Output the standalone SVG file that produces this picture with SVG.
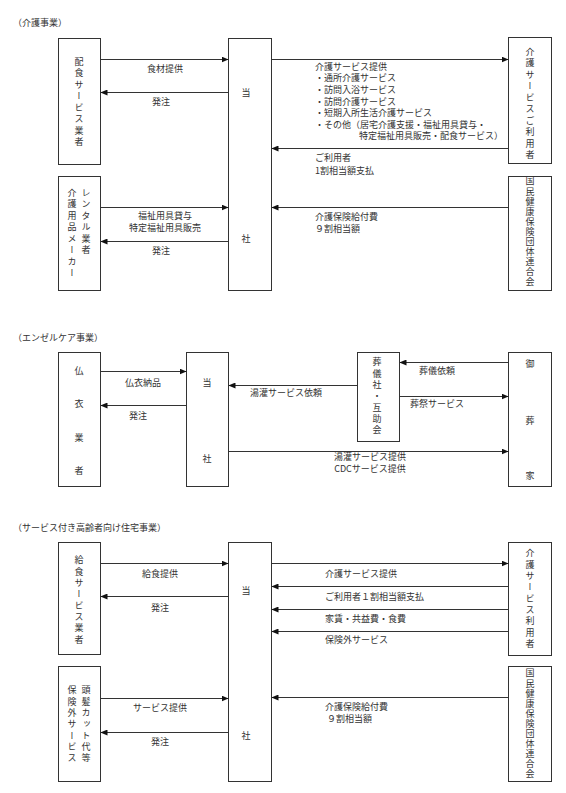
<svg xmlns="http://www.w3.org/2000/svg" width="566" height="793" viewBox="0 0 566 793">
<style>
text{font-family:"Noto Sans CJK JP","Noto Sans",sans-serif;font-size:9px;fill:#333}
.v{writing-mode:vertical-rl;letter-spacing:2.5px}
.v2{writing-mode:vertical-rl;letter-spacing:2.3px}
.v1{writing-mode:vertical-rl;letter-spacing:1.1px}
.box{fill:#fff;stroke:#333;stroke-width:1}
.ln{stroke:#333;stroke-width:1;fill:none;marker-end:url(#ah)}
.m{text-anchor:middle}
</style>
<defs>
<marker id="ah" markerUnits="userSpaceOnUse" markerWidth="7" markerHeight="6" refX="7" refY="3" orient="auto">
<path d="M0,0 L7,3 L0,6 Z" fill="#111"/>
</marker>
</defs>
<rect width="566" height="793" fill="#fff"/>

<text x="13" y="25.5">（介護事業）</text>
<text x="13" y="340.5">（エンゼルケア事業）</text>
<text x="13" y="530.5">（サービス付き高齢者向け住宅事業）</text>

<!-- Section 1 -->
<g id="haishoku">
<rect class="box" x="58.5" y="38.5" width="42" height="126"/>
<text class="v" x="79" y="57">配食サービス業者</text>
</g>
<g id="tousha1">
<rect class="box" x="228.5" y="38.5" width="43" height="252"/>
<text class="m" x="246" y="95.5">当</text>
<text class="m" x="246" y="241.5">社</text>
</g>
<g id="riyousha1">
<rect class="box" x="508.5" y="37.5" width="43" height="126"/>
<text class="v" x="530" y="47">介護サービスご利用者</text>
</g>
<g id="kokuho1">
<rect class="box" x="508.5" y="176.5" width="43" height="114"/>
<text class="v1" x="530" y="176.5">国民健康保険団体連合会</text>
</g>
<g id="rental">
<rect class="box" x="58.5" y="176.5" width="42" height="114"/>
<text class="v" x="86" y="188">レンタル業者</text>
<text class="v" x="72" y="188">介護用品メーカー</text>
</g>

<!-- Section 2 -->
<g id="butsui">
<rect class="box" x="58.5" y="352.5" width="42" height="134"/>
<text class="m" x="79" y="373.5">仏</text>
<text class="m" x="79" y="406.5">衣</text>
<text class="m" x="79" y="440.5">業</text>
<text class="m" x="79" y="473.5">者</text>
</g>
<g id="tousha2">
<rect class="box" x="186.5" y="352.5" width="42" height="134"/>
<text class="m" x="207" y="385.5">当</text>
<text class="m" x="207" y="461.5">社</text>
</g>
<g id="sougisha">
<rect class="box" x="357.5" y="352.5" width="42" height="89"/>
<text class="v2" x="377" y="357.5">葬儀社・互助会</text>
</g>
<g id="gosouka">
<rect class="box" x="508.5" y="352.5" width="43" height="134"/>
<text class="m" x="530" y="366.5">御</text>
<text class="m" x="530" y="423.5">葬</text>
<text class="m" x="530" y="478.5">家</text>
</g>

<!-- Section 3 -->
<g id="kyushoku">
<rect class="box" x="58.5" y="542.5" width="42" height="112"/>
<text class="v2" x="79" y="555.5">給食サービス業者</text>
</g>
<g id="tousha3">
<rect class="box" x="228.5" y="542.5" width="43" height="239"/>
<text class="m" x="246" y="593.5">当</text>
<text class="m" x="246" y="738.5">社</text>
</g>
<g id="riyousha3">
<rect class="box" x="508.5" y="542.5" width="43" height="113"/>
<text class="v2" x="530" y="548.5">介護サービス利用者</text>
</g>
<g id="kokuho3">
<rect class="box" x="508.5" y="666.5" width="43" height="115"/>
<text class="v1" x="530" y="668.5">国民健康保険団体連合会</text>
</g>
<g id="hokengai">
<rect class="box" x="58.5" y="666.5" width="42" height="115"/>
<text class="v2" x="86" y="685.5">頭髪カット代等</text>
<text class="v2" x="72" y="685.5">保険外サービス</text>
</g>

<g id="connectors">
<line class="ln" x1="100.5" y1="59.5" x2="228.5" y2="59.5"/>
<line class="ln" x1="228.5" y1="92.5" x2="100.5" y2="92.5"/>
<line class="ln" x1="271.5" y1="59.5" x2="508.5" y2="59.5"/>
<line class="ln" x1="508.5" y1="148.5" x2="271.5" y2="148.5"/>
<line class="ln" x1="508.5" y1="207.5" x2="271.5" y2="207.5"/>
<line class="ln" x1="100.5" y1="207.5" x2="228.5" y2="207.5"/>
<line class="ln" x1="228.5" y1="241.5" x2="100.5" y2="241.5"/>

<line class="ln" x1="100.5" y1="371.5" x2="186.5" y2="371.5"/>
<line class="ln" x1="186.5" y1="405.5" x2="100.5" y2="405.5"/>
<line class="ln" x1="357.5" y1="385.5" x2="228.5" y2="385.5"/>
<line class="ln" x1="508.5" y1="362.5" x2="399.5" y2="362.5"/>
<line class="ln" x1="399.5" y1="396.5" x2="508.5" y2="396.5"/>
<line class="ln" x1="228.5" y1="451.5" x2="508.5" y2="451.5"/>

<line class="ln" x1="100.5" y1="563.5" x2="228.5" y2="563.5"/>
<line class="ln" x1="228.5" y1="596.5" x2="100.5" y2="596.5"/>
<line class="ln" x1="271.5" y1="563.5" x2="508.5" y2="563.5"/>
<line class="ln" x1="508.5" y1="586.5" x2="271.5" y2="586.5"/>
<line class="ln" x1="508.5" y1="609.5" x2="271.5" y2="609.5"/>
<line class="ln" x1="508.5" y1="631.5" x2="271.5" y2="631.5"/>
<line class="ln" x1="508.5" y1="697.5" x2="271.5" y2="697.5"/>
<line class="ln" x1="100.5" y1="698.5" x2="228.5" y2="698.5"/>
<line class="ln" x1="228.5" y1="732.5" x2="100.5" y2="732.5"/>
</g>

<g id="labels">
<text class="m" x="165" y="71.5">食材提供</text>
<text class="m" x="161" y="104.5">発注</text>
<text x="315" y="69.5">介護サービス提供</text>
<text x="315" y="81">・通所介護サービス</text>
<text x="315" y="92.5">・訪問入浴サービス</text>
<text x="315" y="104.5">・訪問介護サービス</text>
<text x="315" y="116">・短期入所生活介護サービス</text>
<text x="315" y="127.5">・その他（居宅介護支援・福祉用具貸与・</text>
<text x="359" y="139">特定福祉用具販売・配食サービス）</text>
<text x="315" y="160.5">ご利用者</text>
<text x="315" y="173.5">1割相当額支払</text>
<text x="315" y="219.5">介護保険給付費</text>
<text x="315" y="231.5">９割相当額</text>
<text class="m" x="165" y="218.5">福祉用具貸与</text>
<text class="m" x="165" y="230.5">特定福祉用具販売</text>
<text class="m" x="161" y="253.5">発注</text>

<text class="m" x="143" y="385.5">仏衣納品</text>
<text class="m" x="138" y="418.5">発注</text>
<text x="250" y="395.5">湯灌サービス依頼</text>
<text x="419" y="373.5">葬儀依頼</text>
<text x="410" y="406.5">葬祭サービス</text>
<text class="m" x="370" y="459.5">湯灌サービス提供</text>
<text class="m" x="370" y="471.5">CDCサービス提供</text>

<text class="m" x="160" y="576.5">給食提供</text>
<text class="m" x="160" y="610.5">発注</text>
<text x="325" y="576.5">介護サービス提供</text>
<text x="325" y="599.5">ご利用者１割相当額支払</text>
<text x="325" y="621.5">家賃・共益費・食費</text>
<text x="325" y="642.5">保険外サービス</text>
<text x="325" y="709.5">介護保険給付費</text>
<text x="327" y="721.5">９割相当額</text>
<text class="m" x="160" y="710.5">サービス提供</text>
<text class="m" x="160" y="744.5">発注</text>
</g>
</svg>
